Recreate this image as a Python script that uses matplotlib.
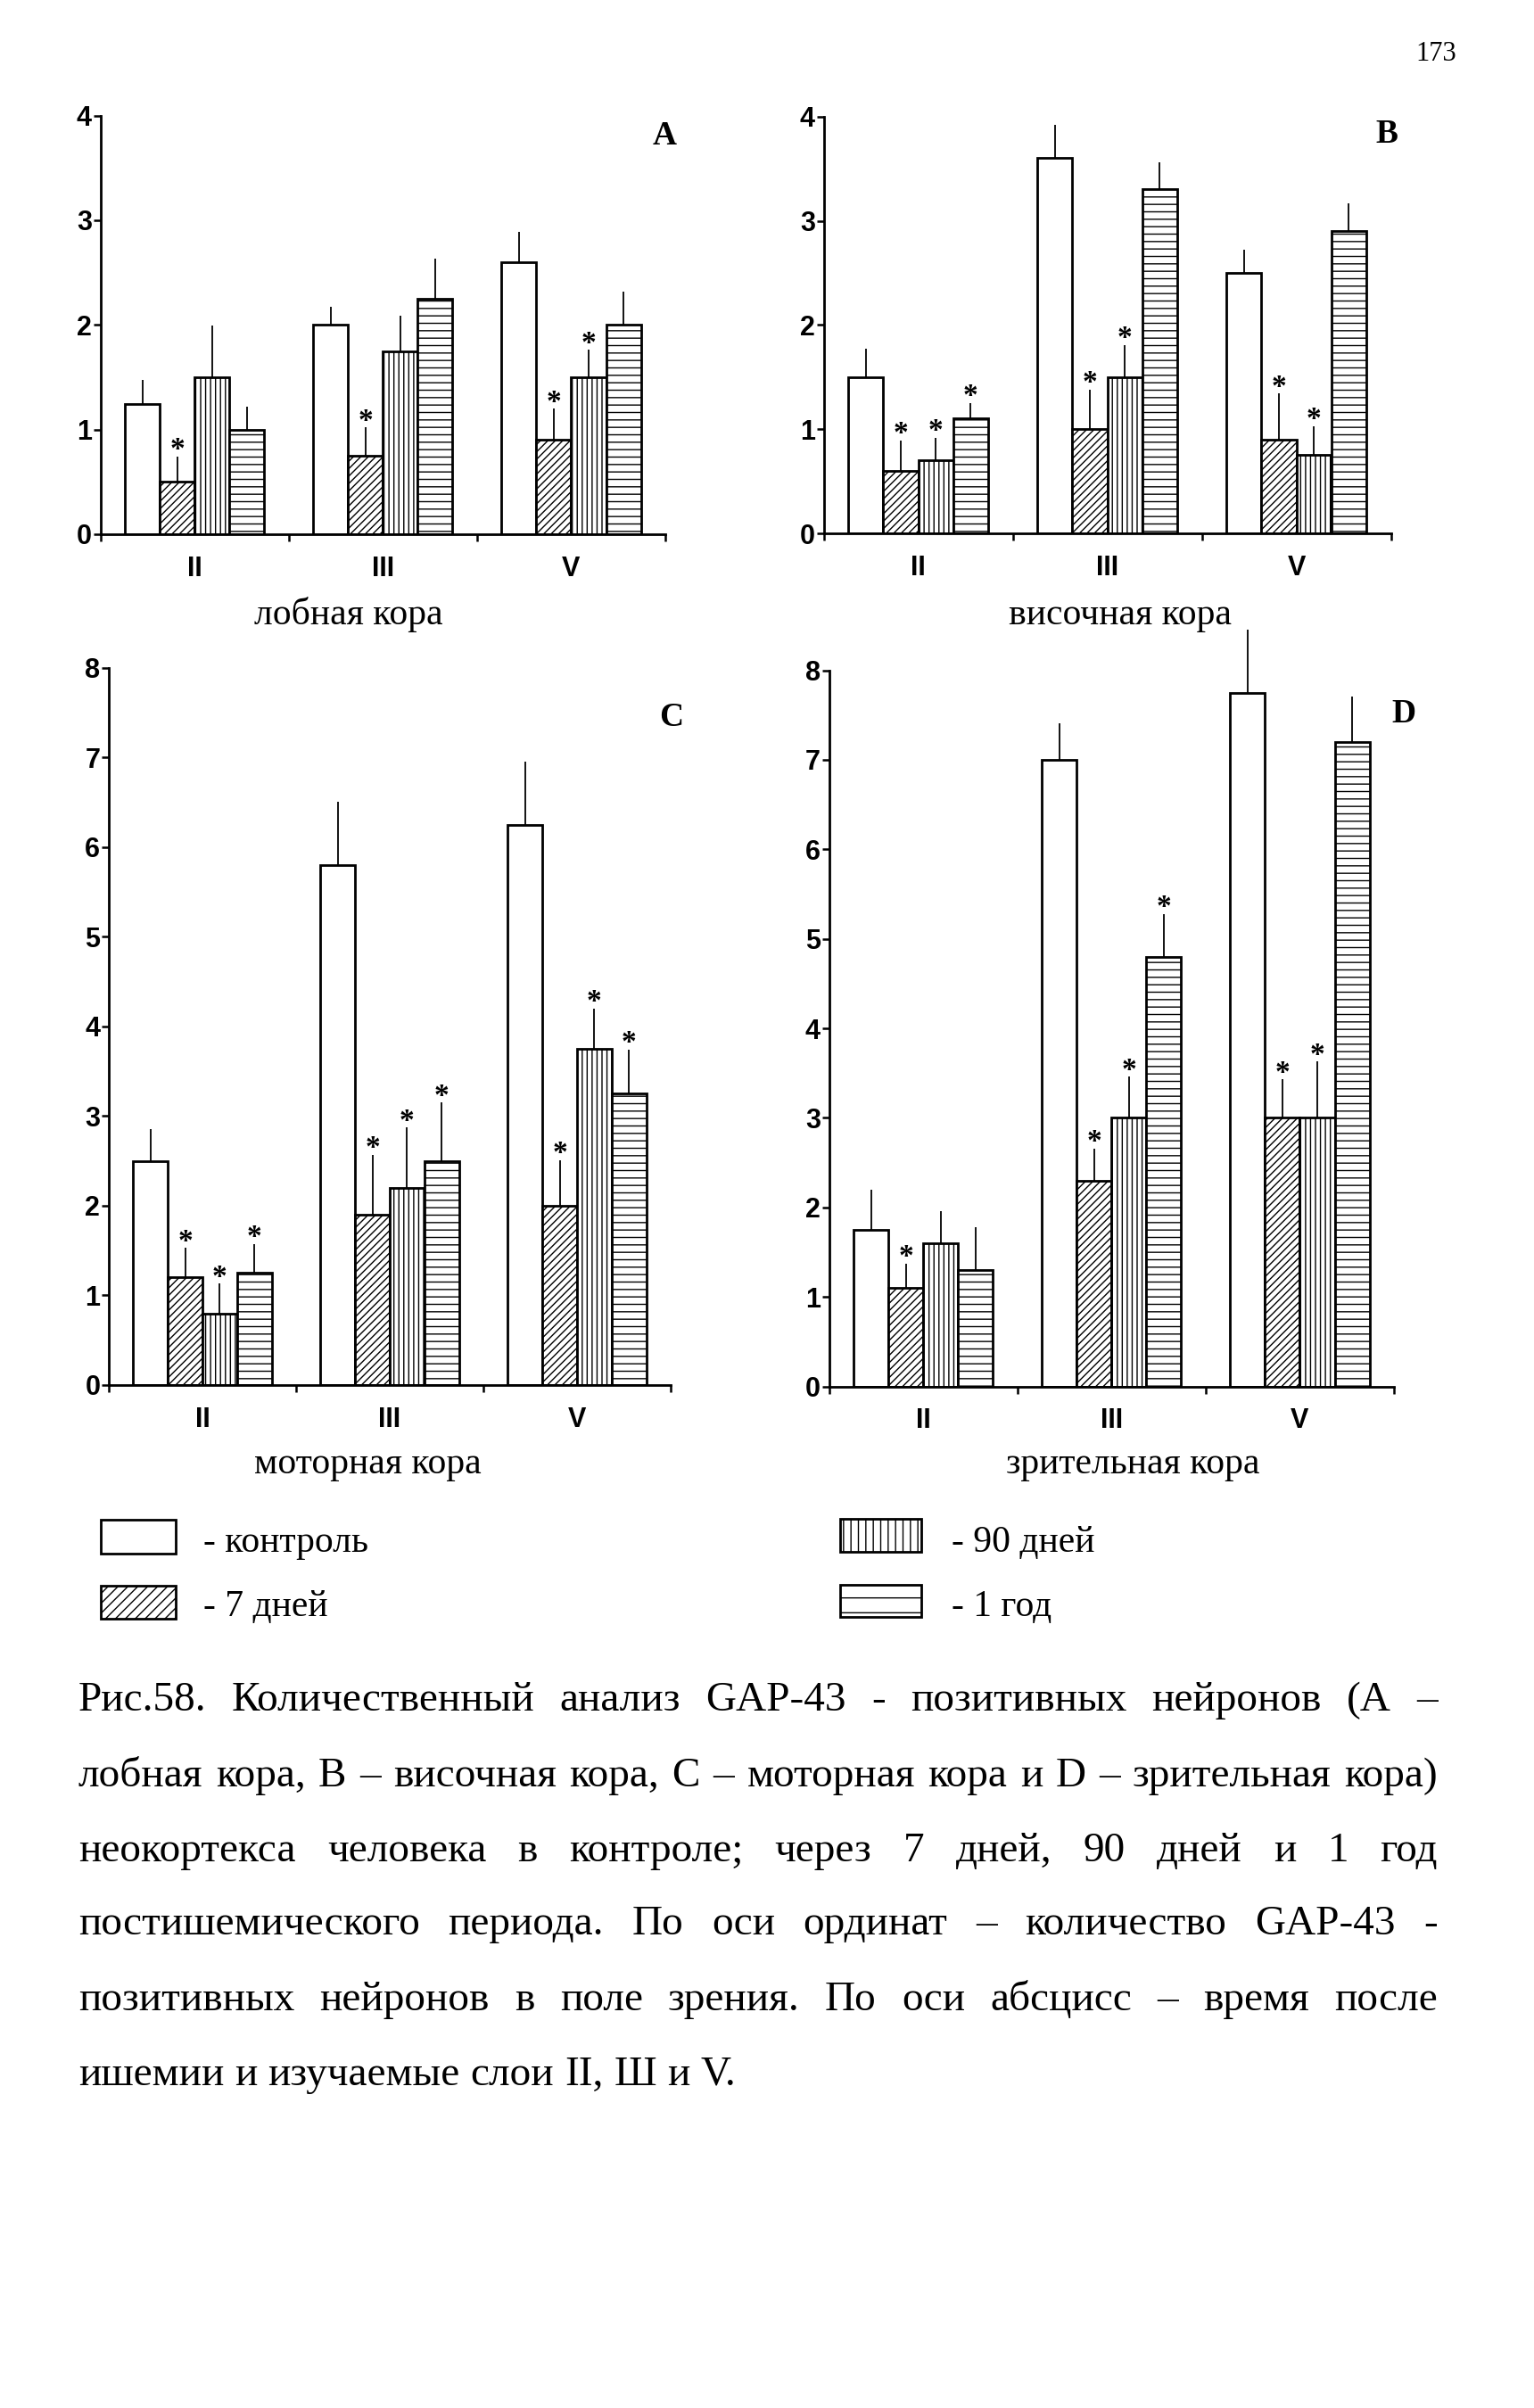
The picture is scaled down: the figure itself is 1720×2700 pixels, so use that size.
import matplotlib
matplotlib.use('Agg')
import matplotlib.pyplot as plt
from matplotlib.patches import Rectangle
import numpy as np

# ---------------- data ----------------
layers = ['II', 'III', 'V']
series_labels = ['- контроль', '- 7 дней', '- 90 дней', '- 1 год']

# A - лобная кора
A_control = [1.24, 2.00, 2.60]
A_d7 = [0.50, 0.75, 0.90]
A_d90 = [1.50, 1.75, 1.50]
A_y1 = [1.00, 2.25, 2.00]
A_err_control = [0.23, 0.17, 0.29]
A_err_d7 = [0.24, 0.27, 0.30]
A_err_d90 = [0.49, 0.34, 0.26]
A_err_y1 = [0.22, 0.38, 0.32]
A_sig = [[0, 0, 0], [1, 1, 1], [0, 0, 1], [0, 0, 0]]

# B - височная кора
B_control = [1.50, 3.60, 2.50]
B_d7 = [0.60, 1.00, 0.90]
B_d90 = [0.70, 1.50, 0.75]
B_y1 = [1.10, 3.30, 2.90]
B_err_control = [0.27, 0.32, 0.22]
B_err_d7 = [0.29, 0.38, 0.44]
B_err_d90 = [0.22, 0.31, 0.28]
B_err_y1 = [0.15, 0.26, 0.27]
B_sig = [[0, 0, 0], [1, 1, 1], [1, 1, 1], [1, 0, 0]]

# C - моторная кора
C_control = [2.50, 5.80, 6.25]
C_d7 = [1.20, 1.90, 2.00]
C_d90 = [0.80, 2.20, 3.75]
C_y1 = [1.25, 2.50, 3.25]
C_err_control = [0.35, 0.71, 0.70]
C_err_d7 = [0.33, 0.67, 0.51]
C_err_d90 = [0.33, 0.67, 0.45]
C_err_y1 = [0.32, 0.65, 0.49]
C_sig = [[0, 0, 0], [1, 1, 1], [1, 1, 1], [1, 1, 1]]

# D - зрительная кора
D_control = [1.75, 7.00, 7.75]
D_d7 = [1.10, 2.30, 3.00]
D_d90 = [1.60, 3.00, 3.00]
D_y1 = [1.30, 4.80, 7.20]
D_err_control = [0.45, 0.41, 0.70]
D_err_d7 = [0.27, 0.36, 0.43]
D_err_d90 = [0.36, 0.46, 0.63]
D_err_y1 = [0.48, 0.48, 0.51]
D_sig = [[0, 0, 0], [1, 1, 1], [0, 1, 1], [0, 1, 0]]

panel_letters = ['A', 'B', 'C', 'D']
panel_titles = ['лобная кора', 'височная кора', 'моторная кора', 'зрительная кора']
panel_ymax = [4, 4, 8, 8]

caption_lines = [
    'Рис.58. Количественный анализ GAP-43 - позитивных нейронов (А –',
    'лобная кора, В – височная кора, С – моторная кора и D – зрительная кора)',
    'неокортекса человека в контроле; через 7 дней, 90 дней и 1 год',
    'постишемического периода. По оси ординат – количество GAP-43 -',
    'позитивных нейронов в поле зрения. По оси абсцисс – время после',
    'ишемии и изучаемые слои II, Ш и V.',
]
page_number = '173'

# ---------------- layout ----------------
W, H = 1720, 2700
fig = plt.figure(figsize=(W / 100, H / 100), dpi=100)
fig.patch.set_facecolor('white')
plt.rcParams['hatch.linewidth'] = 1.0

tick_family = 'Liberation Sans'
serif = 'Liberation Serif'

hatches = [None, '////', '|||', '--']

def rect_px(x0, x1, ytop, ybot):
    return [x0 / W, 1 - ybot / H, (x1 - x0) / W, (ybot - ytop) / H]

axes_px = [
    (112.7, 746, 129.6, 599),
    (923.7, 1559.5, 130.7, 598),
    (122, 752, 748.7, 1553),
    (929.7, 1563, 751.6, 1554.5),
]
letter_px = [(745, 153), (1555, 151), (753, 805), (1574, 800)]
title_px = [(391, 700), (1256, 700), (412, 1652), (1270, 1652)]

panels = [
    ([A_control, A_d7, A_d90, A_y1], [A_err_control, A_err_d7, A_err_d90, A_err_y1], A_sig),
    ([B_control, B_d7, B_d90, B_y1], [B_err_control, B_err_d7, B_err_d90, B_err_y1], B_sig),
    ([C_control, C_d7, C_d90, C_y1], [C_err_control, C_err_d7, C_err_d90, C_err_y1], C_sig),
    ([D_control, D_d7, D_d90, D_y1], [D_err_control, D_err_d7, D_err_d90, D_err_y1], D_sig),
]

bw = 0.185
x = np.arange(len(layers))
offsets = (np.arange(4) - 1.5) * bw

for p, (vals, errs, sig) in enumerate(panels):
    ax = fig.add_axes(rect_px(*axes_px[p]))
    for k in range(4):
        v = np.array(vals[k])
        e = np.array(errs[k])
        xs = x + offsets[k]
        ax.bar(xs, v, width=bw, facecolor='white', edgecolor='black',
               linewidth=2.0, hatch=hatches[k], zorder=2)
        ax.vlines(xs, v, v + e, color='black', lw=1.3, zorder=1, clip_on=False)
        for j in range(len(layers)):
            if sig[k][j]:
                ax.annotate('*', (xs[j], v[j] + e[j]), xytext=(0, -6),
                            textcoords='offset points', ha='center', va='bottom',
                            fontsize=24, fontweight='bold', family=serif,
                            annotation_clip=False)
    ax.set_xlim(-0.5, 2.5)
    ax.set_ylim(0, panel_ymax[p])
    ax.set_xticks(x)
    ax.set_xticklabels(layers)
    ax.set_xticks([-0.5, 0.5, 1.5, 2.5], minor=True)
    ax.tick_params(axis='x', which='major', length=0, pad=17)
    ax.tick_params(axis='x', which='minor', length=6, width=1.8, direction='out')
    ax.set_yticks(range(0, panel_ymax[p] + 1))
    ax.tick_params(axis='y', length=6, width=1.8, direction='out', pad=1)
    for lab in ax.get_xticklabels() + ax.get_yticklabels():
        lab.set_fontfamily(tick_family)
        lab.set_fontweight('bold')
        lab.set_fontsize(22)
    for s in ['top', 'right']:
        ax.spines[s].set_visible(False)
    for s in ['left', 'bottom']:
        ax.spines[s].set_linewidth(2.0)
    ax.set_facecolor('none')

    fig.text(letter_px[p][0] / W, 1 - letter_px[p][1] / H, panel_letters[p],
             ha='center', va='center', fontsize=27, fontweight='bold', family=serif)
    fig.text(title_px[p][0] / W, 1 - title_px[p][1] / H, panel_titles[p],
             ha='center', va='baseline', fontsize=30, family=serif)

# ---------------- legend ----------------
legend_boxes = [(113, 197, 1704, 1742), (113, 197, 1778, 1815),
                (942, 1033, 1703, 1740), (942, 1033, 1777, 1813)]
legend_text = [(228, 1740), (228, 1812), (1067, 1740), (1067, 1812)]
legend_hatch = [None, '///', '||', '-']
for k in range(4):
    x0, x1, y0, y1 = legend_boxes[k]
    r = Rectangle((x0 / W, 1 - y1 / H), (x1 - x0) / W, (y1 - y0) / H,
                  transform=fig.transFigure, facecolor='white', edgecolor='black',
                  lw=2.0, hatch=legend_hatch[k])
    fig.add_artist(r)
    fig.text(legend_text[k][0] / W, 1 - legend_text[k][1] / H, series_labels[k],
             ha='left', va='baseline', fontsize=30, family=serif)

# ---------------- page number ----------------
fig.text(1610 / W, 1 - 61 / H, page_number, ha='center', va='center', fontsize=22, family=serif)

# ---------------- caption (justified) ----------------
renderer = fig.canvas.get_renderer()
left_px, right_px = 88, 1612
line_w = right_px - left_px
baselines = [1918, 2003, 2087, 2169, 2254, 2338]

probe = fig.text(0, 0, caption_lines[1], fontsize=30, family=serif)
nat = probe.get_window_extent(renderer=renderer).width
probe.remove()
cap_fs = float(np.clip(30 * line_w * 0.985 / nat, 26, 34))

for i, line in enumerate(caption_lines):
    words = line.split(' ')
    texts = []
    widths = []
    for wd in words:
        t = fig.text(0, 1 - baselines[i] / H, wd, fontsize=cap_fs, family=serif,
                     ha='left', va='baseline')
        texts.append(t)
        widths.append(t.get_window_extent(renderer=renderer).width)
    if i == len(caption_lines) - 1:
        sp = fig.text(0, 0, 'a a', fontsize=cap_fs, family=serif)
        sa = fig.text(0, 0, 'aa', fontsize=cap_fs, family=serif)
        gap = sp.get_window_extent(renderer=renderer).width - sa.get_window_extent(renderer=renderer).width
        sp.remove(); sa.remove()
    else:
        gap = (line_w - sum(widths)) / (len(words) - 1)
    xpos = left_px
    for t, wdt in zip(texts, widths):
        t.set_x(xpos / W)
        xpos += wdt + gap

fig.savefig('out.png', dpi=100, facecolor='white')
